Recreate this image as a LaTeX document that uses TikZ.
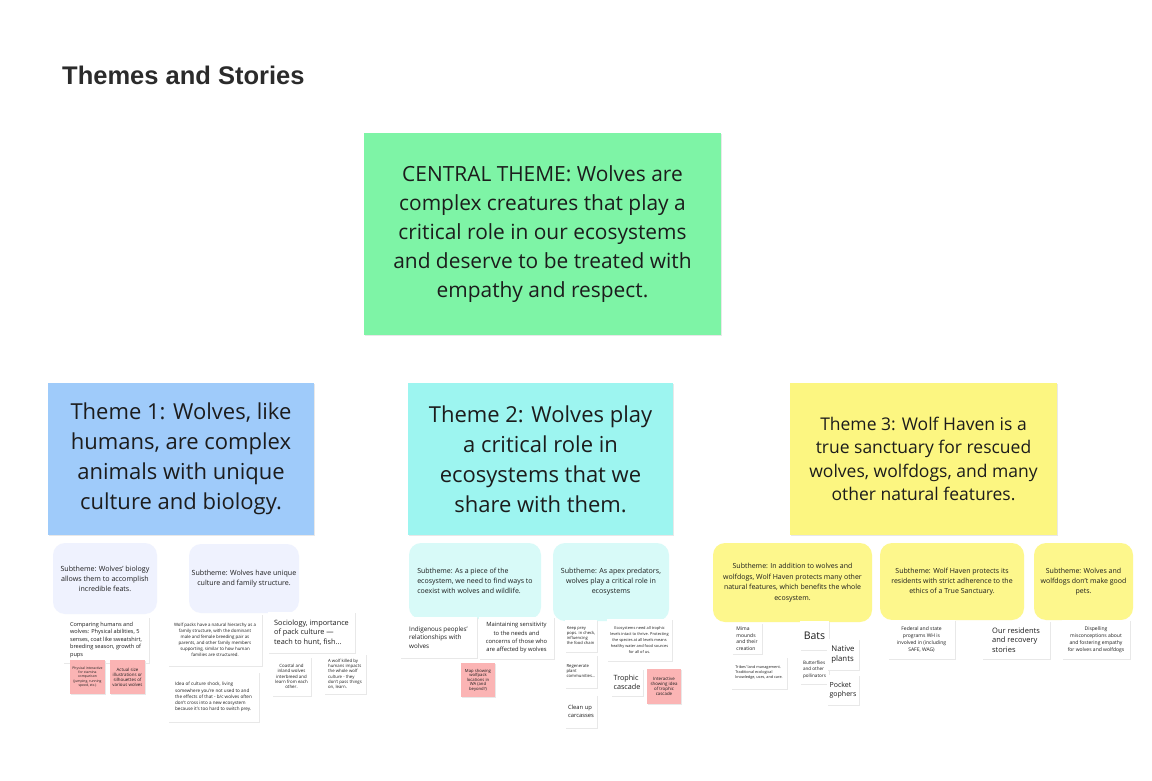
\documentclass[tikz,border=0pt]{standalone}
\usepackage{fontspec}
\setmainfont{Open Sans}
\newfontfamily\titlefont{Liberation Sans}
\usetikzlibrary{shadows}
\definecolor{ink}{HTML}{1C1C1C}
\definecolor{titleink}{HTML}{2B2B2B}
\definecolor{centralc}{HTML}{7EF4A6}
\definecolor{themeA}{HTML}{9FCBFA}
\definecolor{themeB}{HTML}{9DF5F0}
\definecolor{themeC}{HTML}{FCF681}
\definecolor{subA}{HTML}{EFF2FE}
\definecolor{subB}{HTML}{D8FAF8}
\definecolor{subC}{HTML}{FDF78C}
\definecolor{pinkc}{HTML}{FBB4B4}
\newcommand\fsz[2]{\fontsize{#1}{#2}\selectfont}
\begin{document}
\begin{tikzpicture}[x=1pt,y=-1pt,
  box/.style={inner sep=1pt, align=center, text=ink},
  theme/.style={box, general shadow={fill=black!9, shadow xshift=1pt, shadow yshift=-1.2pt}},
  sub/.style={box, rounded corners=12pt},
  note/.style={box, fill=white, general shadow={fill=black!9, shadow xshift=0.6pt, shadow yshift=-0.8pt}},
  pinknote/.style={note, fill=pinkc}]
\useasboundingbox[fill=white] (0,0) rectangle (1152,781);

% title
\node[anchor=base west, inner sep=0pt, text=titleink, font={\titlefont\bfseries\fsz{25.5}{30}}] (title) at (62,85) {Themes and Stories};

% central theme
\node[theme, fill=centralc, minimum width=357pt, minimum height=202pt, font=\fsz{20.9}{29}] (central) at (542.5,234)
  {CENTRAL THEME: Wolves are\\complex creatures that play a\\critical role in our ecosystems\\and deserve to be treated with\\empathy and respect.};

% themes
\node[theme, fill=themeA, minimum width=266pt, minimum height=152pt, font=\fsz{22}{30}] (t1) at (181,459)
  {Theme 1: Wolves, like\\humans, are complex\\animals with unique\\culture and biology.};
\node[theme, fill=themeB, minimum width=265pt, minimum height=152pt, font=\fsz{22}{30}] (t2) at (540.5,459)
  {Theme 2: Wolves play\\a critical role in\\ecosystems that we\\share with them.};
\node[theme, fill=themeC, minimum width=267pt, minimum height=152pt, font=\fsz{17.5}{23.5}] (t3) at (923.5,459)
  {Theme 3: Wolf Haven is a\\true sanctuary for rescued\\wolves, wolfdogs, and many\\other natural features.};

% subthemes
\node[sub, fill=subA, minimum width=104pt, minimum height=71pt, font=\fsz{7.1}{10}] (s1a) at (105,578.5)
  {Subtheme: Wolves' biology\\allows them to accomplish\\incredible feats.};
\node[sub, fill=subA, minimum width=110pt, minimum height=69pt, font=\fsz{7.1}{10}] (s1b) at (244,578.5)
  {Subtheme: Wolves have unique\\culture and family structure.};
\node[sub, fill=subB, minimum width=132pt, minimum height=76pt, font=\fsz{7}{10}, align=left] (s2a) at (475,581)
  {Subtheme: As a piece of the\\ecosystem, we need to find ways to\\coexist with wolves and wildlife.};
\node[sub, fill=subB, minimum width=116pt, minimum height=78pt, font=\fsz{7.1}{10}] (s2b) at (611,582)
  {Subtheme: As apex predators,\\wolves play a critical role in\\ecosystems};
\node[sub, fill=subC, minimum width=159pt, minimum height=79pt, font=\fsz{7}{10.5}] (s3a) at (792.5,582.5)
  {Subtheme: In addition to wolves and\\wolfdogs, Wolf Haven protects many other\\natural features, which benefits the whole\\ecosystem.};
\node[sub, fill=subC, minimum width=144pt, minimum height=77pt, font=\fsz{7}{10}] (s3b) at (952,581.5)
  {Subtheme: Wolf Haven protects its\\residents with strict adherence to the\\ethics of a True Sanctuary.};
\node[sub, fill=subC, minimum width=99pt, minimum height=77pt, font=\fsz{7}{10}] (s3c) at (1083.5,581.5)
  {Subtheme: Wolves and\\wolfdogs don't make good\\pets.};

% theme 1 notes
\node[note, minimum width=86pt, minimum height=46pt, font=\fsz{5.6}{7.5}, align=left] (n1) at (106,640)
  {Comparing humans and\\wolves: Physical abilities, 5\\senses, coat like sweatshirt,\\breeding season, growth of\\pups};
\node[pinknote, minimum width=35pt, minimum height=34pt, font=\fsz{3.4}{4.3}] (p1) at (87.5,677)
  {Physical interactive\\for stamina\\comparison\\(jumping, running\\speed, etc.)};
\node[pinknote, minimum width=35pt, minimum height=34pt, font=\fsz{4.4}{5}] (p2) at (127.5,677)
  {Actual size\\illustrations or\\silhouettes of\\various wolves};
\node[note, minimum width=94pt, minimum height=52pt, font=\fsz{4.4}{6}] (n2) at (215,640)
  {Wolf packs have a natural hierarchy as a\\family structure, with the dominant\\male and female breeding pair as\\parents, and other family members\\supporting, similar to how human\\families are structured.};
\node[note, minimum width=87pt, minimum height=41pt, font=\fsz{7.3}{9.3}, align=left] (n3) at (311.5,632.5)
  {Sociology, importance\\of pack culture —\\teach to hunt, fish...};
\node[note, minimum width=91pt, minimum height=50pt, font=\fsz{4.6}{6.2}, align=left] (n4) at (213.5,697)
  {Idea of culture shock, living\\somewhere you're not used to and\\the effects of that - b/c wolves often\\don't cross into a new ecosystem\\because it's too hard to switch prey.};
\node[note, minimum width=39pt, minimum height=39pt, font=\fsz{4.4}{5.3}] (n5) at (291.5,676.5)
  {Coastal and\\inland wolves\\interbreed and\\learn from each\\other.};
\node[note, minimum width=42pt, minimum height=40pt, font=\fsz{4.3}{5.3}, align=left] (n6) at (345,674)
  {A wolf killed by\\humans impacts\\the whole wolf\\culture - they\\don't pass things\\on, learn.};

% theme 2 notes
\node[note, minimum width=77pt, minimum height=41pt, font=\fsz{6.3}{8.3}, align=left] (n7) at (438.5,637.5)
  {Indigenous peoples'\\relationships with\\wolves};
\node[note, minimum width=75pt, minimum height=42pt, font=\fsz{5.8}{8.3}] (n8) at (516.5,638)
  {Maintaining sensitivity\\to the needs and\\concerns of those who\\are affected by wolves};
\node[pinknote, minimum width=34pt, minimum height=34pt, font=\fsz{4.2}{4.5}] (p3) at (478,680)
  {Map showing\\wolfpack\\locations in\\WA (and\\beyond?)};
\node[note, minimum width=32pt, minimum height=32pt, font=\fsz{4.1}{5}, align=left] (n9) at (581,636)
  {Keep prey\\pops. in check,\\influencing\\the food chain};
\node[note, minimum width=65pt, minimum height=42pt, font=\fsz{3.9}{5.8}] (n10) at (639.5,640)
  {Ecosystems need all trophic\\levels intact to thrive. Protecting\\the species at all levels means\\healthy water and food sources\\for all of us.};
\node[note, minimum width=32pt, minimum height=33pt, font=\fsz{4.2}{5}, align=left] (n11) at (581,671.5)
  {Regenerate\\plant\\communities...};
\node[note, minimum width=32pt, minimum height=27pt, font=\fsz{7.2}{9.5}, align=left] (n12) at (627,682.5)
  {Trophic\\cascade};
\node[pinknote, minimum width=34pt, minimum height=35pt, font=\fsz{4.4}{5}] (p4) at (664,686.5)
  {Interactive\\showing idea\\of trophic\\cascade};
\node[note, minimum width=32pt, minimum height=33pt, font=\fsz{5.8}{7.8}, align=left] (n13) at (581,711.5)
  {Clean up\\carcasses};

% theme 3 notes
\node[note, minimum width=30pt, minimum height=31pt, font=\fsz{5}{6.5}, align=left] (n14) at (747,638.5)
  {Mima\\mounds\\and their\\creation};
\node[note, minimum width=56pt, minimum height=32pt, font=\fsz{3.8}{5}, align=left] (n15) at (759,673)
  {Tribes' land management.\\Traditional ecological\\knowledge, uses, and care.};
\node[note, minimum width=29pt, minimum height=29pt, font=\fsz{10.5}{12}, align=left] (n16) at (814.5,635.5)
  {Bats};
\node[note, minimum width=29pt, minimum height=29pt, font=\fsz{4.6}{6.5}, align=left] (n17) at (814.5,669.5)
  {Butterflies\\and other\\pollinators};
\node[note, minimum width=32pt, minimum height=31pt, font=\fsz{7.8}{10}, align=left] (n18) at (843,654.5)
  {Native\\plants};
\node[note, minimum width=32pt, minimum height=30pt, font=\fsz{7}{9}, align=left] (n19) at (843,690)
  {Pocket\\gophers};
\node[note, minimum width=67pt, minimum height=39pt, font=\fsz{5}{7}] (n20) at (921.5,639.5)
  {Federal and state\\programs WH is\\involved in (including\\SAFE, WAG)};
\node[note, minimum width=68pt, minimum height=38pt, font=\fsz{7.5}{9.7}, align=left] (n21) at (1016,640)
  {Our residents\\and recovery\\stories};
\node[note, minimum width=68pt, minimum height=39pt, font=\fsz{5}{7}] (n22) at (1096,639.5)
  {Dispelling\\misconceptions about\\and fostering empathy\\for wolves and wolfdogs};
\end{tikzpicture}
\end{document}
